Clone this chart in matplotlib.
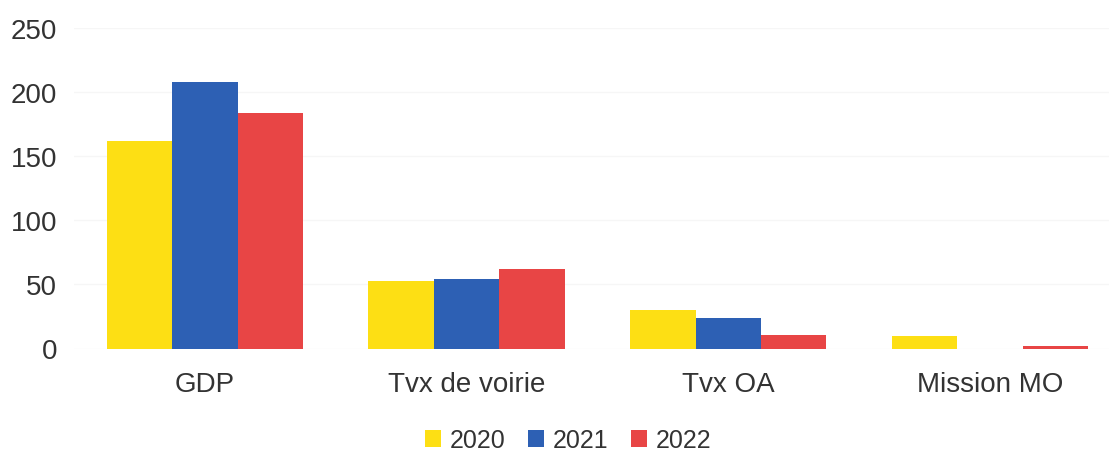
import numpy as np
import matplotlib
matplotlib.use('Agg')
import matplotlib.pyplot as plt
from matplotlib.patches import Patch

plt.rcParams['font.family'] = ['Liberation Sans', 'DejaVu Sans']

categories = ['GDP', 'Tvx de voirie', 'Tvx OA', 'Mission MO']
years = ['2020', '2021', '2022']
values_2020 = [162, 53, 30, 10]
values_2021 = [208, 54, 24, 0]
values_2022 = [184, 62, 10.5, 2]
colors = ['#fddf14', '#2d60b4', '#e84545']

series = [values_2020, values_2021, values_2022]

fig = plt.figure(figsize=(11.09, 4.52), dpi=100)
ax = fig.add_axes([74 / 1109, (452 - 349.5) / 452, 1 - 74 / 1109, (349.5 - 29) / 452])

x = np.arange(len(categories))
width = 0.25
for i, (vals, col) in enumerate(zip(series, colors)):
    ax.bar(x + (i - 1) * width, vals, width, color=col, linewidth=0, zorder=3)

ax.set_xlim(-0.5, -0.5 + (1109 - 74) / 261.7)
ax.set_ylim(0, 250)
ax.set_yticks([0, 50, 100, 150, 200, 250])
ax.set_xticks(x)
ax.set_xticklabels(categories)
ax.tick_params(axis='y', length=0, pad=12, labelsize=20, labelcolor='#333333')
ax.tick_params(axis='x', length=0, pad=16, labelsize=20, labelcolor='#333333')
ax.grid(axis='y', color='#f6f6f6', lw=1, zorder=0)
for s in ax.spines.values():
    s.set_visible(False)

handles = [Patch(facecolor=c, edgecolor='none') for c in colors]
fig.legend(handles, years, loc='center', bbox_to_anchor=(568 / 1109, 1 - 441 / 452),
           ncol=3, frameon=False, fontsize=18, handlelength=0.65, handleheight=0.65,
           handletextpad=0.35, columnspacing=0.9, labelcolor='#333333')

fig.savefig('out.png', dpi=100)
